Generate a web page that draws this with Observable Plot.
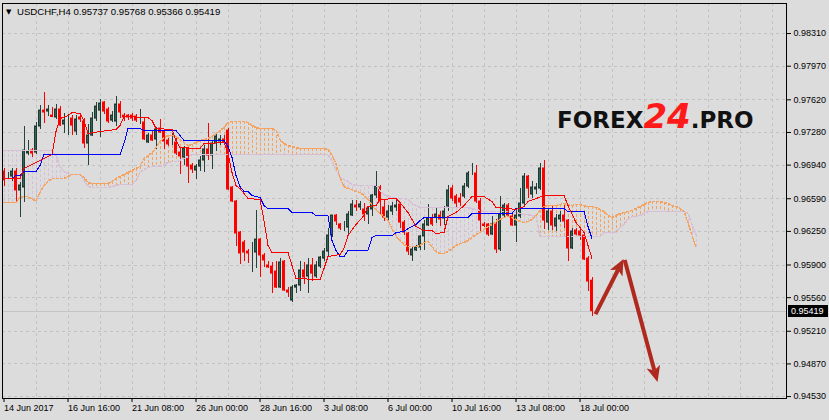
<!DOCTYPE html>
<html>
<head>
<meta charset="utf-8">
<script src="https://cdn.jsdelivr.net/npm/d3@7"></script>
<script src="https://cdn.jsdelivr.net/npm/@observablehq/plot@0.6"></script>
<style>
  html, body { margin: 0; padding: 0; background: #dcdcdc; }
  #chart { width: 829px; height: 420px; overflow: hidden; }
  #chart svg { display: block; }
</style>
</head>
<body>
<div id="chart"></div>
<script>
// ================= DATA =================
const symbolLabel = "USDCHF,H4";
const firstBar = "2017-06-14T00:00:00Z";

const open = [
.96873,.96832,.96821,.96873,.96676,.96707,.97061,.97092,.97071,.97342,
.97508,.97498,.97456,.97436,.97519,.97363,.97415,.97425,.97290,.97436,
.97394,.97165,.97248,.97425,.97508,.97592,.97519,.97404,.97394,.97571,
.97456,.97456,.97456,.97446,.97394,.97384,.97175,.97248,.97207,.97321,
.97290,.97196,.97175,.97175,.97071,.97019,.97113,.96936,.96884,.96925,
.96988,.97103,.97040,.97165,.97186,.97207,.97300,.96707,.96561,.96238,
.96134,.96040,.96030,.96030,.96165,.95999,.95895,.95884,.95832,.95665,
.95936,.95634,.95530,.95665,.95686,.95843,.95780,.95895,.95780,.95884,
.95967,.96040,.96207,.96415,.96322,.96290,.96290,.96415,.96519,.96499,
.96478,.96426,.96478,.96624,.96707,.96499,.96394,.96457,.96499,.96530,
.96342,.96228,.95999,.96051,.96082,.96197,.96311,.96384,.96394,.96415,
.96384,.96509,.96696,.96613,.96592,.96613,.96717,.96853,.96853,.96561,
.96322,.96322,.96217,.96322,.96061,.96415,.96519,.96405,.96311,.96405,
.96540,.96821,.96634,.96686,.96696,.96905,.96342,.96457,.96301,.96374,
.96415,.96363,.96072,.96259,.96249,.96207,.95967,.95737];

const high = [
.96905,.96863,.96905,.96905,.96759,.97342,.97196,.97113,.97384,.97561,
.97696,.97561,.97540,.97571,.97550,.97477,.97467,.97456,.97456,.97456,
.97425,.97363,.97488,.97592,.97623,.97602,.97540,.97498,.97654,.97602,
.97477,.97467,.97477,.97467,.97519,.97425,.97269,.97290,.97332,.97415,
.97300,.97217,.97269,.97238,.97113,.97134,.97123,.96957,.96946,.97030,
.97144,.97373,.97196,.97269,.97248,.97248,.97321,.96717,.96571,.96249,
.96155,.96061,.96134,.96467,.96176,.96020,.95936,.95926,.95936,.95967,
.95947,.95665,.95686,.95697,.95936,.95926,.95967,.95967,.95936,.95988,
.96072,.96280,.96415,.96426,.96332,.96353,.96457,.96571,.96571,.96561,
.96540,.96509,.96634,.96873,.96728,.96571,.96519,.96551,.96571,.96540,
.96363,.96238,.96092,.96103,.96207,.96363,.96530,.96426,.96488,.96457,
.96509,.96728,.96728,.96634,.96644,.96748,.96873,.96957,.96936,.96592,
.96342,.96332,.96405,.96374,.96613,.96540,.96540,.96436,.96467,.96696,
.96853,.96832,.96769,.96748,.96957,.96988,.96488,.96519,.96426,.96457,
.96519,.96374,.96280,.96280,.96280,.96217,.95988,.95768];

const low = [
.96717,.96801,.96769,.96551,.96394,.96551,.97040,.97019,.97050,.97311,
.97373,.97446,.97436,.97415,.97342,.97269,.97248,.97248,.97248,.97384,
.97113,.96936,.97238,.97394,.97228,.97467,.97373,.97384,.97342,.97425,
.97394,.97404,.97394,.97384,.97363,.97196,.97165,.97186,.97103,.97269,
.97103,.97134,.97144,.97040,.96842,.96936,.96748,.96853,.96790,.96873,
.96863,.96988,.96894,.97082,.97144,.97144,.96676,.96551,.96092,.95905,
.95936,.95915,.95822,.95863,.95770,.95874,.95863,.95603,.95655,.95655,
.95624,.95561,.95509,.95603,.95624,.95697,.95603,.95728,.95759,.95863,
.95936,.95988,.96186,.96311,.96259,.96249,.96207,.96405,.96457,.96467,
.96353,.96322,.96405,.96592,.96415,.96353,.96363,.96415,.96457,.96280,
.96207,.95999,.95936,.96040,.96051,.96051,.96301,.96301,.96332,.96301,
.96311,.96457,.96561,.96488,.96509,.96592,.96696,.96832,.96540,.96238,
.96290,.96197,.96207,.96020,.96040,.96384,.96405,.96301,.96134,.96384,
.96509,.96592,.96592,.96634,.96676,.96269,.96259,.96259,.96249,.96342,
.96280,.95936,.96061,.96207,.96155,.95947,.95624,.95366];

const close = [
.96780,.96832,.96873,.96676,.96728,.97092,.97082,.97061,.97342,.97508,
.97488,.97519,.97441,.97519,.97352,.97404,.97415,.97352,.97415,.97415,
.97165,.97248,.97425,.97550,.97581,.97498,.97394,.97456,.97571,.97488,
.97436,.97436,.97425,.97404,.97394,.97207,.97248,.97196,.97311,.97279,
.97186,.97155,.97175,.97061,.97030,.97113,.96925,.96894,.96925,.96988,
.97103,.97040,.97165,.97238,.97207,.97175,.96686,.96561,.96228,.96020,
.96030,.96020,.96030,.96165,.95999,.95947,.95874,.95811,.95665,.95926,
.95634,.95613,.95665,.95686,.95843,.95770,.95895,.95811,.95895,.95978,
.96040,.96207,.96415,.96353,.96280,.96290,.96426,.96530,.96499,.96530,
.96426,.96488,.96624,.96717,.96561,.96394,.96457,.96509,.96519,.96342,
.96238,.96040,.96061,.96082,.96197,.96322,.96384,.96322,.96426,.96374,
.96457,.96676,.96592,.96540,.96551,.96717,.96853,.96853,.96561,.96363,
.96306,.96217,.96322,.96061,.96426,.96519,.96415,.96311,.96415,.96540,
.96821,.96696,.96707,.96707,.96905,.96363,.96457,.96311,.96384,.96415,
.96353,.96072,.96249,.96217,.96207,.95957,.95728,.95419];

// Tenkan-sen (red) turning points: bar index and price
const tenkanBars = [0,4,5,9,12,13,14,16,17,19,20,21,24,28,29,30,36,37,38,42,43,44,49,50,55,56,57,58,59,61,64,65,66,67,71,72,73,79,80,81,84,85,86,88,90,91,93,94,98,99,101,103,105,107,108,110,111,113,115,117,120,122,123,126,128,130,131,133,135,140,141,143,145,146,147];
const tenkan = [.96801,.96801,.96905,.96988,.97050,.97290,.97425,.97456,.97488,.97477,.97404,.97269,.97290,.97311,.97352,.97446,.97436,.97404,.97321,.97311,.97196,.97123,.97113,.97165,.97175,.97061,.96863,.96728,.96696,.96592,.96582,.96363,.96103,.96030,.96030,.95895,.95759,.95749,.95863,.95988,.96009,.96072,.96207,.96322,.96415,.96509,.96519,.96582,.96592,.96551,.96446,.96301,.96259,.96259,.96228,.96238,.96405,.96446,.96519,.96613,.96613,.96561,.96499,.96488,.96478,.96509,.96561,.96592,.96624,.96624,.96519,.96342,.96238,.96103,.95967];

// Kijun-sen (blue) turning points
const kijunBars = [0,2,3,4,5,8,9,10,29,30,31,34,35,43,44,45,55,56,57,58,59,60,61,62,63,64,65,66,71,72,77,78,81,82,83,84,85,86,91,92,93,97,98,100,101,102,103,104,105,116,117,127,128,140,141,145,146,147];
const kijun = [.96801,.96801,.96832,.96832,.96873,.96873,.96936,.97050,.97050,.97165,.97321,.97321,.97300,.97300,.97248,.97196,.97196,.97134,.97019,.96832,.96717,.96665,.96665,.96624,.96613,.96603,.96519,.96488,.96488,.96446,.96446,.96415,.96415,.96155,.96051,.95988,.95988,.96051,.96051,.96186,.96207,.96207,.96238,.96249,.96280,.96301,.96322,.96363,.96394,.96394,.96436,.96436,.96488,.96488,.96457,.96457,.96301,.96176];

// Senkou span A (sandy brown) for every bar, 26 bars beyond the last candle
const senkouA = [
.96551,.96551,.96551,.96551,.96603,.96613,.96613,.96582,.96571,.96655,
.96728,.96769,.96801,.96801,.96801,.96801,.96821,.96842,.96842,.96842,
.96811,.96759,.96748,.96748,.96748,.96748,.96748,.96769,.96801,.96821,
.96842,.96863,.96884,.96905,.96925,.97009,.97040,.97071,.97123,.97186,
.97228,.97248,.97248,.97238,.97207,.97175,.97144,.97155,.97175,.97196,
.97207,.97217,.97238,.97269,.97300,.97332,.97384,.97394,.97394,.97394,
.97394,.97384,.97352,.97332,.97321,.97321,.97321,.97321,.97300,.97207,
.97165,.97144,.97134,.97123,.97113,.97113,.97113,.97113,.97113,.97113,
.97113,.97103,.97040,.96957,.96811,.96717,.96696,.96686,.96665,.96655,
.96624,.96582,.96530,.96478,.96436,.96405,.96363,.96280,.96197,.96155,
.96113,.96092,.96092,.96092,.96103,.96134,.96145,.96092,.96040,.96020,
.96020,.96040,.96072,.96103,.96124,.96134,.96155,.96186,.96217,.96238,
.96269,.96301,.96322,.96353,.96374,.96394,.96405,.96394,.96374,.96353,
.96342,.96353,.96374,.96415,.96467,.96509,.96519,.96519,.96519,.96530,
.96540,.96530,.96519,.96530,.96530,.96519,.96509,.96509,.96499,.96478,
.96457,.96415,.96394,.96415,.96436,.96446,.96457,.96467,.96488,.96509,
.96530,.96551,.96561,.96561,.96561,.96551,.96540,.96519,.96509,.96488,
.96457,.96342,.96207,.96082];

// Senkou span B (thistle) for every bar
const senkouB = [
.97092,.97092,.97092,.97092,.97092,.97092,.97092,.97092,.97092,.97092,
.97092,.97092,.97092,.97040,.96925,.96873,.96853,.96842,.96842,.96842,
.96780,.96717,.96707,.96707,.96707,.96707,.96707,.96717,.96728,.96738,
.96738,.96738,.96738,.96780,.96863,.96894,.96915,.96925,.96925,.96925,
.96946,.96967,.96978,.96978,.96988,.97009,.97030,.97050,.97050,.97050,
.97050,.97050,.97050,.97050,.97050,.97050,.97050,.97050,.97050,.97050,
.97050,.97050,.97050,.97050,.97050,.97050,.97050,.97050,.97050,.97050,
.97050,.97050,.97050,.97050,.97050,.97050,.97050,.97050,.97050,.97050,
.97050,.97050,.96988,.96884,.96821,.96790,.96769,.96738,.96728,.96728,
.96728,.96728,.96728,.96728,.96676,.96634,.96613,.96603,.96592,.96592,
.96592,.96582,.96540,.96519,.96499,.96499,.96499,.96499,.96499,.96499,
.96499,.96499,.96499,.96499,.96499,.96499,.96499,.96488,.96478,.96467,
.96457,.96457,.96457,.96457,.96457,.96457,.96457,.96457,.96446,.96436,
.96426,.96426,.96415,.96415,.96197,.96197,.96197,.96197,.96197,.96197,
.96197,.96197,.96197,.96197,.96197,.96197,.96197,.96197,.96197,.96197,
.96238,.96238,.96238,.96238,.96290,.96322,.96374,.96405,.96405,.96415,
.96436,.96457,.96457,.96457,.96457,.96457,.96457,.96457,.96457,.96457,
.96457,.96436,.96322,.96217];

const priceTicks = [0.98310, 0.97970, 0.97620, 0.97280, 0.96940, 0.96590, 0.96250, 0.95900, 0.95560, 0.95210, 0.94870, 0.94530];
const xTickLabels = ["14 Jun 2017", "16 Jun 16:00", "21 Jun 08:00", "26 Jun 00:00", "28 Jun 16:00", "3 Jul 08:00", "6 Jul 00:00", "10 Jul 16:00", "13 Jul 08:00", "18 Jul 00:00"];

// Forecast arrows drawn on the chart (start bar/price -> tip bar/price)
const arrowFromBars = [148, 155.3];
const arrowFromPrices = [0.95384, 0.95947];
const arrowToBars = [155, 163.5];
const arrowToPrices = [0.95957, 0.94676];

const watermarkParts = ["FOREX", "24", ".PRO"];

// ================= BUILD =================
const n = open.length;
if ([high, low, close].some(a => a.length !== n) || senkouB.length !== senkouA.length ||
    tenkan.length !== tenkanBars.length || kijun.length !== kijunBars.length) {
  throw new Error(`length mismatch o${n} h${high.length} l${low.length} c${close.length} A${senkouA.length} B${senkouB.length} t${tenkan.length}/${tenkanBars.length} k${kijun.length}/${kijunBars.length}`);
}

// H4 bar times (weekdays only)
const H4 = 4 * 3600 * 1000;
const barTimes = [];
for (let t = Date.parse(firstBar); barTimes.length < senkouA.length; t += H4) {
  const wd = new Date(t).getUTCDay();
  if (wd !== 0 && wd !== 6) barTimes.push(t);
}
const monthIdx = {Jan:0,Feb:1,Mar:2,Apr:3,May:4,Jun:5,Jul:6,Aug:7,Sep:8,Oct:9,Nov:10,Dec:11};
const xTicks = xTickLabels.map(s => {
  const [d, m, t] = s.split(" ");
  const hasTime = t.includes(":");
  const time = Date.UTC(hasTime ? new Date(barTimes[0]).getUTCFullYear() : +t, monthIdx[m], +d, hasTime ? +t.split(":")[0] : 0);
  return {i: barTimes.indexOf(time), label: s};
});
const labelOf = new Map(xTicks.map(d => [d.i, d.label]));

const bars = open.map((o, i) => ({i, o, h: high[i], l: low[i], c: close[i]}));
const bull = bars.filter(d => d.c >= d.o);
const bear = bars.filter(d => d.c < d.o);
const cloud = senkouA.map((a, i) => ({i, a, b: senkouB[i]}));
const tenkanPts = tenkanBars.map((i, k) => ({i, v: tenkan[k]}));
const kijunPts = kijunBars.map((i, k) => ({i, v: kijun[k]}));
const gridBars = d3.range(8, 196, 8);
const lastPrice = close[n - 1];

const BULL_FILL = "#35655a", BULL_EDGE = "#1e3832", BULL_WICK = "#26423b";
const GRID = "#c2c2c2";
const SANDY = "#f4a460", THISTLE = "#d8bfd8";
const FONT = "'Liberation Sans', Arial, sans-serif";

const chart = Plot.plot({
  width: 829,
  height: 420,
  marginLeft: 2,
  marginRight: 43,
  marginTop: 3,
  marginBottom: 22,
  style: {background: "#dcdcdc", color: "#000", fontFamily: FONT, fontSize: "9px", overflow: "visible"},
  x: {domain: [-0.375, 195.625], axis: "bottom", ticks: xTicks.map(d => d.i), tickFormat: i => labelOf.get(i), tickSize: 4, tickPadding: 2, label: null},
  y: {domain: [0.94510, 0.98623], axis: "right", ticks: priceTicks, tickFormat: d3.format(".5f"), tickSize: 4, tickPadding: 3, label: null},
  marks: [
    Plot.ruleY(priceTicks, {stroke: GRID, strokeDasharray: "3,3", shapeRendering: "crispEdges"}),
    Plot.ruleX(gridBars, {stroke: GRID, strokeDasharray: "3,3", shapeRendering: "crispEdges"}),
    Plot.ruleY([lastPrice], {stroke: "#c4c4c4", shapeRendering: "crispEdges"}),
    // Kumo hatching
    Plot.ruleX(cloud.filter(d => d.a >= d.b), {x: "i", y1: "a", y2: "b", stroke: SANDY, strokeDasharray: "3,2", shapeRendering: "crispEdges"}),
    Plot.ruleX(cloud.filter(d => d.a < d.b), {x: "i", y1: "a", y2: "b", stroke: THISTLE, strokeDasharray: "3,2", shapeRendering: "crispEdges"}),
    // candles
    Plot.ruleX(bull, {x: "i", y1: "l", y2: "h", stroke: BULL_WICK, shapeRendering: "crispEdges"}),
    Plot.ruleX(bear, {x: "i", y1: "l", y2: "h", stroke: "#ff0000", shapeRendering: "crispEdges"}),
    Plot.rect(bull, {x1: d => d.i - 0.375, x2: d => d.i + 0.375, y1: "o", y2: "c", fill: BULL_FILL, stroke: BULL_EDGE, insetLeft: 0.5, insetRight: 0.5}),
    Plot.rect(bear, {x1: d => d.i - 0.375, x2: d => d.i + 0.375, y1: "o", y2: "c", fill: "#ff0000", stroke: "#ff0000", insetLeft: 0.5, insetRight: 0.5}),
    // Ichimoku lines
    Plot.line(cloud, {x: "i", y: "b", stroke: THISTLE, strokeDasharray: "2,2", shapeRendering: "crispEdges"}),
    Plot.line(cloud, {x: "i", y: "a", stroke: SANDY, strokeDasharray: "2,2", shapeRendering: "crispEdges"}),
    Plot.line(kijunPts, {x: "i", y: "v", stroke: "#0000ff", strokeWidth: 1, shapeRendering: "crispEdges"}),
    Plot.line(tenkanPts, {x: "i", y: "v", stroke: "#ff0000", strokeWidth: 1, shapeRendering: "crispEdges"}),
    Plot.frame({stroke: "#000", shapeRendering: "crispEdges"})
  ]
});

document.getElementById("chart").appendChild(chart);

const svg = d3.select(chart);
// left-align the date labels on their ticks
svg.selectAll('g[aria-label^="x-axis"] text').attr("text-anchor", "start");

const xs = chart.scale("x"), ys = chart.scale("y");
const X = d3.scaleLinear(xs.domain, xs.range);
const Y = d3.scaleLinear(ys.domain, ys.range);

const ov = svg.append("g").attr("text-anchor", "start").attr("font-family", FONT);

// title (symbol + OHLC of last bar)
const f5 = d3.format(".5f");
ov.append("text").attr("x", 6).attr("y", 13.5).attr("text-anchor", "start")
  .attr("font-size", 7).attr("font-family", "'DejaVu Sans', sans-serif").text("▼");
ov.append("text").attr("x", 17).attr("y", 14.5).attr("text-anchor", "start")
  .attr("font-size", 9.6).attr("fill", "#000")
  .text(`${symbolLabel} ${f5(open[n-1])} ${f5(high[n-1])} ${f5(low[n-1])} ${f5(close[n-1])}`);

// current price tag on the axis
const py = Y(lastPrice);
ov.append("rect").attr("x", 788).attr("y", Math.round(py) - 6).attr("width", 40).attr("height", 12).attr("fill", "#000");
ov.append("text").attr("x", 791).attr("y", py + 3.3).attr("text-anchor", "start").attr("fill", "#fff")
  .attr("font-size", 9).text(f5(lastPrice));

// watermark
const wm = ov.append("text").attr("x", 557).attr("y", 128).attr("text-anchor", "start")
  .attr("font-family", "'DejaVu Sans', sans-serif").attr("font-weight", "bold");
wm.append("tspan").attr("font-size", 23).attr("fill", "#111").text(watermarkParts[0]);
wm.append("tspan").attr("font-size", 34).attr("font-style", "italic").attr("fill", "#ff1a1a").text(watermarkParts[1]);
wm.append("tspan").attr("font-size", 23).attr("fill", "#111").text(watermarkParts[2]);

// forecast arrows
const AR = "#b0291f";
const ga = svg.append("g");
arrowFromBars.forEach((b, k) => {
  const x1 = X(b), y1 = Y(arrowFromPrices[k]), x2 = X(arrowToBars[k]), y2 = Y(arrowToPrices[k]);
  const dx = x2 - x1, dy = y2 - y1, len = Math.hypot(dx, dy), ux = dx / len, uy = dy / len, nx = -uy, ny = ux;
  const L = 16, W = 7, notch = 4;
  const bx = x2 - ux * (L - notch), by = y2 - uy * (L - notch);
  ga.append("line").attr("x1", x1).attr("y1", y1).attr("x2", bx).attr("y2", by)
    .attr("stroke", AR).attr("stroke-width", 4);
  ga.append("path")
    .attr("d", `M${x2},${y2}L${x2 - ux*L + nx*W},${y2 - uy*L + ny*W}L${bx},${by}L${x2 - ux*L - nx*W},${y2 - uy*L - ny*W}Z`)
    .attr("fill", AR);
});
</script>
</body>
</html>
